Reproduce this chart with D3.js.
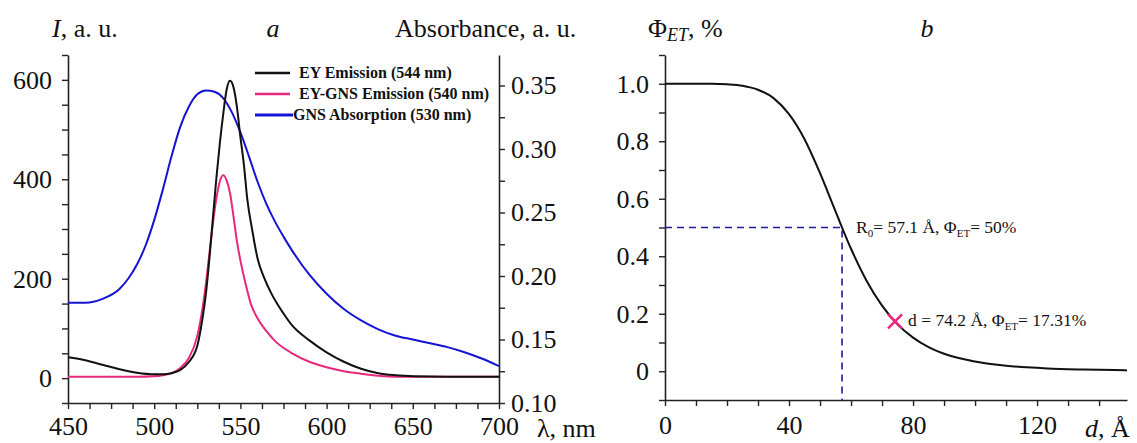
<!DOCTYPE html>
<html lang="en">
<head>
  <meta charset="UTF-8">
  <title>EY / GNS spectra and FRET efficiency</title>
  <script src="https://d3js.org/d3.v7.min.js"></script>
  <style>
    body { margin: 0; background: white; overflow: hidden; }
    text { font-family: "Liberation Serif", "Times New Roman", serif; fill: #111; }
    .tick text { font-size: 26px; }
  </style>
</head>
<body>
  <script>
    // ---- panel a data ----
    const eyWl = [450,460,470,480,490,500,505,510,515,520,525,528,530,532,534,536,538,540,542,544,546,548,550,552,554,557,560,564,568,575,580,590,600,610,620,630,640,650,670,700];
    const eyI  = [42,36,27,18,11,8,8,10,16,32,65,120,170,240,320,400,470,530,580,598,585,545,485,430,360,295,240,200,170,130,106,76,52,33,19,10,6,4,3,3];

    const gnsWl = [450,470,490,500,505,510,515,520,525,528,530,532,534,536,538,540,542,544,546,548,550,553,556,560,565,570,580,590,600,610,620,630,640,660,700];
    const gnsI  = [3,3,3,4,6,10,20,40,85,140,190,250,310,360,395,408,398,372,325,275,237,190,150,120,95,75,50,33,22,14,9,5,3,3,3];

    const absWl = [450,460,470,480,485,490,495,500,505,510,515,520,525,530,535,540,545,550,555,560,565,570,575,580,590,600,610,620,630,640,650,660,670,680,690,700];
    const absA  = [0.179,0.179,0.182,0.190,0.198,0.209,0.224,0.244,0.268,0.294,0.317,0.333,0.343,0.346,0.345,0.340,0.329,0.313,0.294,0.274,0.257,0.243,0.231,0.220,0.201,0.186,0.174,0.165,0.158,0.153,0.150,0.147,0.144,0.140,0.135,0.129];

    const legendLabels = ["EY Emission (544 nm)", "EY-GNS Emission (540 nm)", "GNS Absorption (530 nm)"];
    const seriesColors = ["#111111", "#e8287c", "#1414d2"];

    // ---- panel b data ----
    const dist = [0,5,10,15,20,25,30,35,40,45,50,55,60,65,70,75,80,85,90,95,100,105,110,115,120,125,130,135,140,145,149];
    const phiET = [1.000,1.000,1.000,1.000,0.998,0.993,0.979,0.950,0.894,0.807,0.689,0.556,0.426,0.315,0.228,0.163,0.117,0.084,0.061,0.045,0.034,0.025,0.019,0.015,0.012,0.009,0.007,0.006,0.005,0.004,0.003];
    const r0 = 57.1, phiHalf = 0.5;
    const dMark = 74.2, phiMark = 0.1731;

    const width = 1137, height = 443;
    const svg = d3.select("body").append("svg")
      .attr("width", width)
      .attr("height", height);

    const xA = d3.scaleLinear([450, 700], [68, 499]);
    const yA = d3.scaleLinear([-50, 650], [403, 55]);
    const yA2 = d3.scaleLinear([0.10, 0.374], [403, 55]);
    const xB = d3.scaleLinear([0, 149], [665, 1127]);
    const yB = d3.scaleLinear([-0.1, 1.1], [400, 55]);

    const near = (v, step) => Math.abs(v / step - Math.round(v / step)) < 1e-6;

    function styleAxis(g) {
      g.attr("font-family", null).attr("font-size", null);
      g.selectAll("path.domain").attr("stroke", "#222").attr("stroke-width", 1.6);
      g.selectAll(".tick line").attr("stroke", "#222").attr("stroke-width", 1.4);
      g.selectAll(".tick text")
        .style("font-family", "'Liberation Serif', 'Times New Roman', serif")
        .style("font-size", "26px")
        .attr("fill", "#111");
    }

    // panel a axes
    svg.append("g")
      .attr("transform", "translate(0,403)")
      .call(d3.axisBottom(xA)
        .tickValues(d3.range(0, 21).map(i => 450 + i * 12.5))
        .tickFormat(v => near(v - 450, 50) ? v : "")
        .tickSize(6).tickSizeOuter(0).tickPadding(8))
      .call(styleAxis);

    svg.append("g")
      .attr("transform", "translate(68,0)")
      .call(d3.axisLeft(yA)
        .tickValues(d3.range(-50, 651, 50))
        .tickFormat(v => (v >= 0 && v % 200 === 0) ? v : "")
        .tickSize(6).tickSizeOuter(0).tickPadding(10))
      .call(styleAxis);

    svg.append("g")
      .attr("transform", "translate(499,0)")
      .call(d3.axisRight(yA2)
        .tickValues(d3.range(0, 11).map(i => +(0.10 + i * 0.025).toFixed(3)))
        .tickFormat(v => near(v, 0.05) ? v.toFixed(2) : "")
        .tickSize(6).tickSizeOuter(0).tickPadding(6))
      .call(styleAxis);

    // panel a curves
    const lineI = d3.line().x(d => xA(d[0])).y(d => yA(d[1])).curve(d3.curveMonotoneX);
    const lineAbs = d3.line().x(d => xA(d[0])).y(d => yA2(d[1])).curve(d3.curveMonotoneX);

    svg.append("path")
      .attr("d", lineAbs(d3.zip(absWl, absA)))
      .attr("fill", "none").attr("stroke", seriesColors[2]).attr("stroke-width", 2);
    svg.append("path")
      .attr("d", lineI(d3.zip(gnsWl, gnsI)))
      .attr("fill", "none").attr("stroke", seriesColors[1]).attr("stroke-width", 2);
    svg.append("path")
      .attr("d", lineI(d3.zip(eyWl, eyI)))
      .attr("fill", "none").attr("stroke", seriesColors[0]).attr("stroke-width", 2);

    // legend
    const legend = svg.append("g");
    legendLabels.forEach((label, i) => {
      const y = 73 + i * 21;
      legend.append("line")
        .attr("x1", 255).attr("x2", i === 2 ? 293 : 290)
        .attr("y1", y).attr("y2", y)
        .attr("stroke", seriesColors[i]).attr("stroke-width", i === 2 ? 3 : 2.5);
      legend.append("text")
        .attr("x", i === 2 ? 293 : 299).attr("y", y + 5)
        .attr("font-size", 16).attr("font-weight", "bold")
        .attr("fill", "#222")
        .text(label);
    });

    // panel a titles
    const tA = svg.append("text").attr("x", 52).attr("y", 37).attr("font-size", 26);
    tA.append("tspan").attr("font-style", "italic").text("I");
    tA.append("tspan").text(", a. u.");
    svg.append("text").attr("x", 273).attr("y", 37).attr("font-size", 26)
      .attr("font-style", "italic").attr("text-anchor", "middle").text("a");
    svg.append("text").attr("x", 395).attr("y", 37).attr("font-size", 26).text("Absorbance, a. u.");
    svg.append("text").attr("x", 537).attr("y", 437).attr("font-size", 26).text("λ, nm");

    // panel b axes
    svg.append("g")
      .attr("transform", "translate(0,400)")
      .call(d3.axisBottom(xB)
        .tickValues(d3.range(0, 141, 10))
        .tickFormat(v => v % 40 === 0 ? v : "")
        .tickSize(6).tickSizeOuter(0).tickPadding(10))
      .call(styleAxis);

    svg.append("g")
      .attr("transform", "translate(665,0)")
      .call(d3.axisLeft(yB)
        .tickValues(d3.range(0, 13).map(i => +(-0.1 + i * 0.1).toFixed(2)))
        .tickFormat(v => (v >= 0 && near(v, 0.2)) ? (v === 0 ? "0" : v.toFixed(1)) : "")
        .tickSize(6).tickSizeOuter(0).tickPadding(10))
      .call(styleAxis);

    // dashed R0 guide
    const guide = d3.line().x(d => xB(d[0])).y(d => yB(d[1]));
    svg.append("path")
      .attr("d", guide([[0, phiHalf], [r0, phiHalf], [r0, -0.1]]))
      .attr("fill", "none").attr("stroke", "#1c1c9c")
      .attr("stroke-width", 1.6).attr("stroke-dasharray", "7,5");

    // efficiency curve
    const lineB = d3.line().x(d => xB(d[0])).y(d => yB(d[1])).curve(d3.curveMonotoneX);
    svg.append("path")
      .attr("d", lineB(d3.zip(dist, phiET)))
      .attr("fill", "none").attr("stroke", "#111").attr("stroke-width", 2);

    // marker
    const mx = xB(dMark), my = yB(phiMark), ms = 7;
    svg.append("path")
      .attr("d", `M${mx - ms},${my - ms}L${mx + ms},${my + ms}M${mx - ms},${my + ms}L${mx + ms},${my - ms}`)
      .attr("stroke", "#e8287c").attr("stroke-width", 2.5);

    // annotations
    function annot(x, y, parts) {
      const t = svg.append("text").attr("x", x).attr("y", y).attr("font-size", 17.5).attr("fill", "#333");
      parts.forEach(p => {
        const s = t.append("tspan").text(p.t);
        if (p.sub) s.attr("font-size", 11).attr("dy", 4);
        if (p.up) s.attr("dy", -4);
      });
    }
    annot(xB(r0) + 14, yB(phiHalf) + 5, [
      { t: "R" }, { t: "0", sub: true }, { t: "= 57.1 Å, Φ", up: true }, { t: "ET", sub: true }, { t: "= 50%", up: true }
    ]);
    annot(mx + 13, my + 5, [
      { t: "d = 74.2 Å, Φ" }, { t: "ET", sub: true }, { t: "= 17.31%", up: true }
    ]);

    // panel b titles
    const tB = svg.append("text").attr("x", 648).attr("y", 37).attr("font-size", 26);
    tB.append("tspan").text("Φ");
    tB.append("tspan").attr("font-style", "italic").attr("font-size", 18).attr("dy", 4).text("ET");
    tB.append("tspan").attr("dy", -4).text(", %");
    svg.append("text").attr("x", 927).attr("y", 37).attr("font-size", 26)
      .attr("font-style", "italic").attr("text-anchor", "middle").text("b");
    const tD = svg.append("text").attr("x", 1085).attr("y", 437).attr("font-size", 26);
    tD.append("tspan").attr("font-style", "italic").text("d");
    tD.append("tspan").text(", Å");
  </script>
</body>
</html>
